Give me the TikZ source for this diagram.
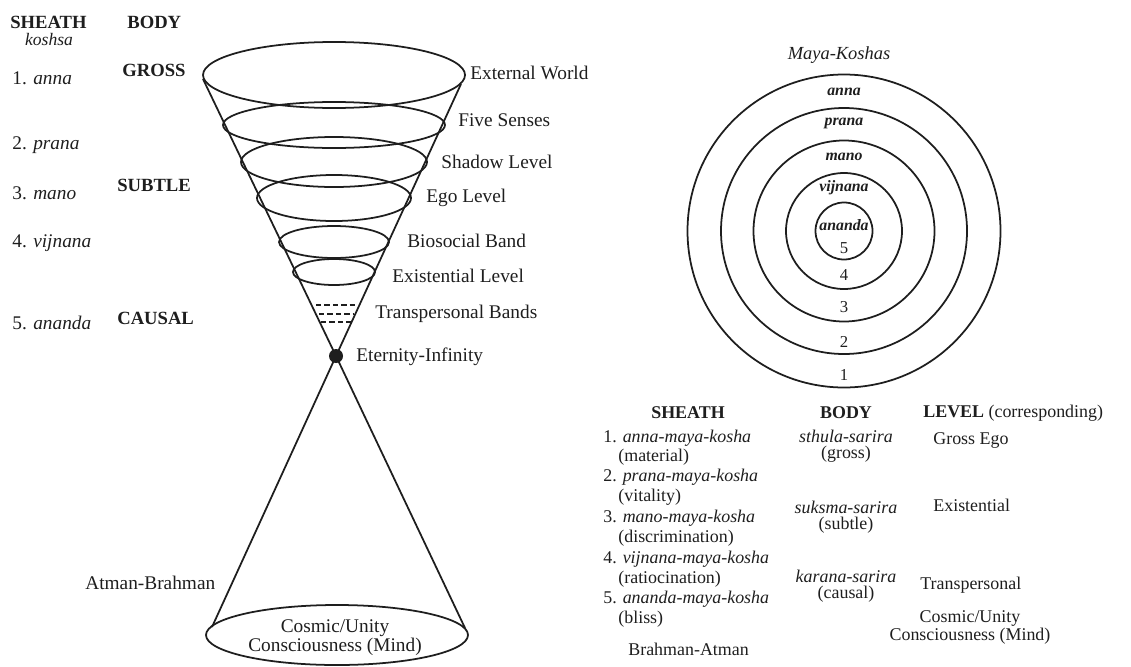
\documentclass[tikz,border=0pt]{standalone}
\usepackage{fontspec}
\setmainfont{Liberation Serif}
\usepackage{xcolor}
\definecolor{inkDark}{RGB}{30, 30, 30}
\usepackage{tikz}
\usetikzlibrary{
    arrows.meta,
    positioning,
    calc
}

\begin{document}
\begin{tikzpicture}[
    x=0.02cm, y=-0.02cm,
    coneLine/.style={
        line width=1pt, draw=inkDark
    },
    bandDash/.style={
        line width=0.9pt, draw=inkDark, dash pattern=on 3pt off 1.8pt
    },
    sideLabel/.style={
        anchor=west, inner sep=0pt, text=inkDark,
        font=\fontsize{11}{12}\selectfont
    },
    headLabel/.style={
        anchor=west, inner sep=0pt, text=inkDark,
        font=\fontsize{10.6}{12}\selectfont\bfseries
    },
    koshaLabel/.style={
        inner sep=0pt, text=inkDark,
        font=\fontsize{9}{10}\selectfont\bfseries\itshape
    },
    ringNumber/.style={
        inner sep=0pt, text=inkDark,
        font=\fontsize{9.5}{10}\selectfont
    },
    tableText/.style={
        anchor=west, inner sep=0pt, text=inkDark,
        font=\fontsize{10.2}{11}\selectfont
    },
    bodyText/.style={
        inner sep=0pt, text=inkDark, align=center,
        font=\fontsize{10.2}{9.2}\selectfont
    }
]
    \useasboundingbox (0,0) rectangle (1131,666);

    % Left column: sheaths and bodies
    \node[headLabel] (sheathHead) at (10,22) {SHEATH};
    \node[sideLabel, font=\fontsize{10}{11}\selectfont\itshape, anchor=center] (koshsa) at (49,39) {koshsa};
    \node[headLabel] (bodyHead) at (127,22) {BODY};

    \node[sideLabel] (anna) at (12,78) {1. \textit{anna}};
    \node[sideLabel] (prana) at (12,145) {2. \textit{prana}};
    \node[sideLabel] (mano) at (12,193) {3. \textit{mano}};
    \node[sideLabel] (vijnana) at (12,243) {4. \textit{vijnana}};
    \node[sideLabel] (ananda) at (12,323) {5. \textit{ananda}};

    \node[headLabel] (gross) at (122,70) {GROSS};
    \node[headLabel] (subtle) at (117,185) {SUBTLE};
    \node[headLabel] (causal) at (117,318) {CAUSAL};

    % Cone: upper funnel, apex, lower funnel
    \node[circle, fill=inkDark, inner sep=0pt, minimum size=0.28cm] (apex) at (336,356) {};
    \coordinate (topL) at (203,79);
    \coordinate (topR) at (461,84);
    \coordinate (botL) at (212,627);
    \coordinate (botR) at (465,628);

    \draw[coneLine] (334,75) ellipse [x radius=131, y radius=33];
    \draw[coneLine] (topL) -- (apex.center) -- (botR);
    \draw[coneLine] (topR) -- (apex.center) -- (botL);

    \foreach \cy/\rx/\ry in {125/111/23, 162/93/25, 198/77/23, 242/55/16, 272/41/13}
        \draw[coneLine] (334,\cy) ellipse [x radius=\rx, y radius=\ry];

    \draw[bandDash] (316,305) -- (357,305);
    \draw[bandDash] (319,314) -- (353,314);
    \draw[bandDash] (321,322) -- (351,322);

    \draw[coneLine] (337,635) ellipse [x radius=131, y radius=30];
    \node[bodyText, font=\fontsize{11}{10.8}\selectfont] (unityCone) at (335,638)
        {Cosmic/Unity\\Consciousness (Mind)};

    % Levels along the cone
    \node[sideLabel] (external) at (470,73) {External World};
    \node[sideLabel] (senses) at (458,120) {Five Senses};
    \node[sideLabel] (shadow) at (441,162) {Shadow Level};
    \node[sideLabel] (ego) at (426,198) {Ego Level};
    \node[sideLabel] (biosocial) at (407,241) {Biosocial Band};
    \node[sideLabel] (existential) at (392,276) {Existential Level};
    \node[sideLabel] (transpersonal) at (375,314) {Transpersonal Bands};
    \node[sideLabel] (eternity) at (356,357) {Eternity-Infinity};
    \node[sideLabel] (atman) at (85,583) {Atman-Brahman};

    % Right: Maya-Koshas rings
    \coordinate (ringCenter) at (844,231);
    \foreach \r in {28.5, 58, 90.5, 123, 156.5}
        \draw[coneLine] (ringCenter) circle [radius=\r];

    \node[sideLabel, anchor=center, font=\fontsize{10.5}{12}\selectfont\itshape] (mayaTitle) at (839,55) {Maya-Koshas};
    \node[koshaLabel] (ringAnna) at (844,92) {anna};
    \node[koshaLabel] (ringPrana) at (844,123) {prana};
    \node[koshaLabel] (ringMano) at (844,157) {mano};
    \node[koshaLabel] (ringVijnana) at (844,188) {vijnana};
    \node[koshaLabel] (ringAnanda) at (844,225) {ananda};

    \node[ringNumber] (ringFive) at (844,248) {5};
    \node[ringNumber] (ringFour) at (844,275) {4};
    \node[ringNumber] (ringThree) at (844,307) {3};
    \node[ringNumber] (ringTwo) at (844,342) {2};
    \node[ringNumber] (ringOne) at (844,375) {1};

    % Bottom right: table of sheaths, bodies and levels
    \node[headLabel, font=\fontsize{10.2}{11}\selectfont\bfseries, anchor=center] (tabSheath) at (688,413) {SHEATH};
    \node[headLabel, font=\fontsize{10.2}{11}\selectfont\bfseries, anchor=center] (tabBody) at (846,413) {BODY};
    \node[tableText] (tabLevel) at (923,413) {\textbf{LEVEL} (corresponding)};

    \node[tableText] (sh1) at (603,438) {1. \textit{anna-maya-kosha}};
    \node[tableText] (sh1b) at (618,457) {(material)};
    \node[tableText] (sh2) at (603,477) {2. \textit{prana-maya-kosha}};
    \node[tableText] (sh2b) at (618,497) {(vitality)};
    \node[tableText] (sh3) at (603,518) {3. \textit{mano-maya-kosha}};
    \node[tableText] (sh3b) at (618,538) {(discrimination)};
    \node[tableText] (sh4) at (603,559) {4. \textit{vijnana-maya-kosha}};
    \node[tableText] (sh4b) at (618,579) {(ratiocination)};
    \node[tableText] (sh5) at (603,599) {5. \textit{ananda-maya-kosha}};
    \node[tableText] (sh5b) at (618,619) {(bliss)};
    \node[tableText] (brahman) at (628,649) {Brahman-Atman};

    \node[bodyText] (sthula) at (846,446) {\textit{sthula-sarira}\\(gross)};
    \node[bodyText] (suksma) at (846,517) {\textit{suksma-sarira}\\(subtle)};
    \node[bodyText] (karana) at (846,586) {\textit{karana-sarira}\\(causal)};

    \node[tableText] (grossEgo) at (933,440) {Gross Ego};
    \node[tableText] (existLevel) at (933,505) {Existential};
    \node[tableText] (transLevel) at (920,585) {Transpersonal};
    \node[bodyText] (unityLevel) at (970,627) {Cosmic/Unity\\Consciousness (Mind)};

\end{tikzpicture}
\end{document}
